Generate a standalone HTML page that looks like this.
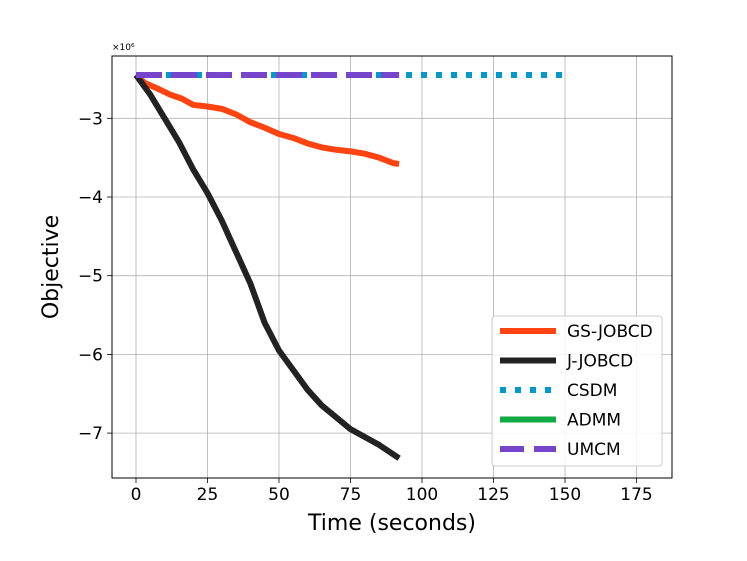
<!DOCTYPE html>
<html><head><meta charset="utf-8"><style>
body{margin:0;background:#fff;}
svg{display:block;font-family:"DejaVu Sans","Liberation Sans",sans-serif;}
</style></head><body>
<svg id="chart" width="747" height="561"></svg>
<script>
const xTicks=[0,25,50,75,100,125,150,175];
const yTicks=[-3,-4,-5,-6,-7];
const gsT=[0,3,8,12,16,20,25,30,35,40,45,50,55,60,65,70,75,80,85,90,92];
const gsV=[-2.45,-2.55,-2.63,-2.7,-2.75,-2.83,-2.85,-2.88,-2.95,-3.05,-3.12,-3.2,-3.25,-3.32,-3.37,-3.4,-3.42,-3.45,-3.5,-3.57,-3.58];
const jT=[0,5,10,15,20,25,30,35,40,45,50,55,60,65,70,75,80,85,92];
const jV=[-2.45,-2.7,-3.0,-3.3,-3.65,-3.95,-4.3,-4.7,-5.1,-5.6,-5.95,-6.2,-6.45,-6.65,-6.8,-6.95,-7.05,-7.15,-7.32];
const csT=[0,152];const csV=[-2.45,-2.45];
const adT=[0,0.3];const adV=[-2.45,-2.45];
const umT=[0,92];const umV=[-2.45,-2.45];
const seriesNames=["GS-JOBCD","J-JOBCD","CSDM","ADMM","UMCM"];
const NS="http://www.w3.org/2000/svg";
const svg=document.getElementById('chart');
const L=112,R=672,T=56,B=478;
const sx=v=>136+v*(71.5/25);
const sy=v=>118.3+(-3-v)*78.7;
function mk(tag,attrs,parent){const e=document.createElementNS(NS,tag);for(const k in attrs)e.setAttribute(k,attrs[k]);(parent||svg).appendChild(e);return e;}
const grid=mk('g',{});


xTicks.forEach(t=>{
 mk('line',{x1:sx(t),x2:sx(t),y1:T,y2:B,stroke:'#b0b0b0','stroke-width':0.8},grid);
 mk('line',{x1:sx(t),x2:sx(t),y1:B,y2:B+5,stroke:'#000','stroke-width':0.8});
 const tx=mk('text',{x:sx(t),y:B+22,'text-anchor':'middle','font-size':17});
 tx.textContent=t;
 
 
});
yTicks.forEach(t=>{
 mk('line',{x1:L,x2:R,y1:sy(t),y2:sy(t),stroke:'#b0b0b0','stroke-width':0.8},grid);
 mk('line',{x1:L-5,x2:L,y1:sy(t),y2:sy(t),stroke:'#000','stroke-width':0.8});
 const tx=mk('text',{x:L-9,y:sy(t)+6,'text-anchor':'end','font-size':17});
 tx.textContent='\u2212'+Math.abs(t);
 
 
});
function line(ts,vs,color,w,dash,name){
 const p=mk('polyline',{points:ts.map((t,i)=>sx(t)+','+sy(vs[i])).join(' '),fill:'none',stroke:color,'stroke-width':w,'stroke-dasharray':dash||'none','stroke-linejoin':'round'});
 
 
}
line(adT,adV,'#11aa44',6,null,'admm-line');
line(gsT,gsV,'#ff4411',6,null,'gs-jobcd-line');
line(jT,jV,'#222222',6,null,'j-jobcd-line');
line(csT,csV,'#0099cc',6,'6 9','csdm-line');
line(umT,umV,'#7744cc',6,'26 9','umcm-line');
const fr=mk('rect',{x:L,y:T,width:R-L,height:B-T,fill:'none',stroke:'#000','stroke-width':1});


const ex=mk('text',{x:L,y:T-6,'font-size':9});ex.textContent='\u00d710\u2076';


const xt=mk('text',{x:(L+R)/2,y:530,'text-anchor':'middle','font-size':22});xt.textContent='Time (seconds)';


const yt=mk('text',{x:0,y:0,'text-anchor':'middle','font-size':22,transform:'translate(58,267) rotate(-90)'});yt.textContent='Objective';


const lg=mk('g',{});


mk('rect',{x:492,y:316,width:170,height:150,rx:3,fill:'#fff','fill-opacity':0.85,stroke:'#ccc'},lg);
const lcol=['#ff4411','#222222','#0099cc','#11aa44','#7744cc'];
const ldash=[null,null,'6 9',null,'24 10'];
seriesNames.forEach((n,i)=>{
 const y=331+i*29.5;
 const l=mk('line',{x1:500,x2:556,y1:y,y2:y,stroke:lcol[i],'stroke-width':6,'stroke-dasharray':ldash[i]||'none'},lg);
 const t=mk('text',{x:567,y:y+6,'font-size':17},lg);t.textContent=n;
 
 
});
</script>
</body></html>
